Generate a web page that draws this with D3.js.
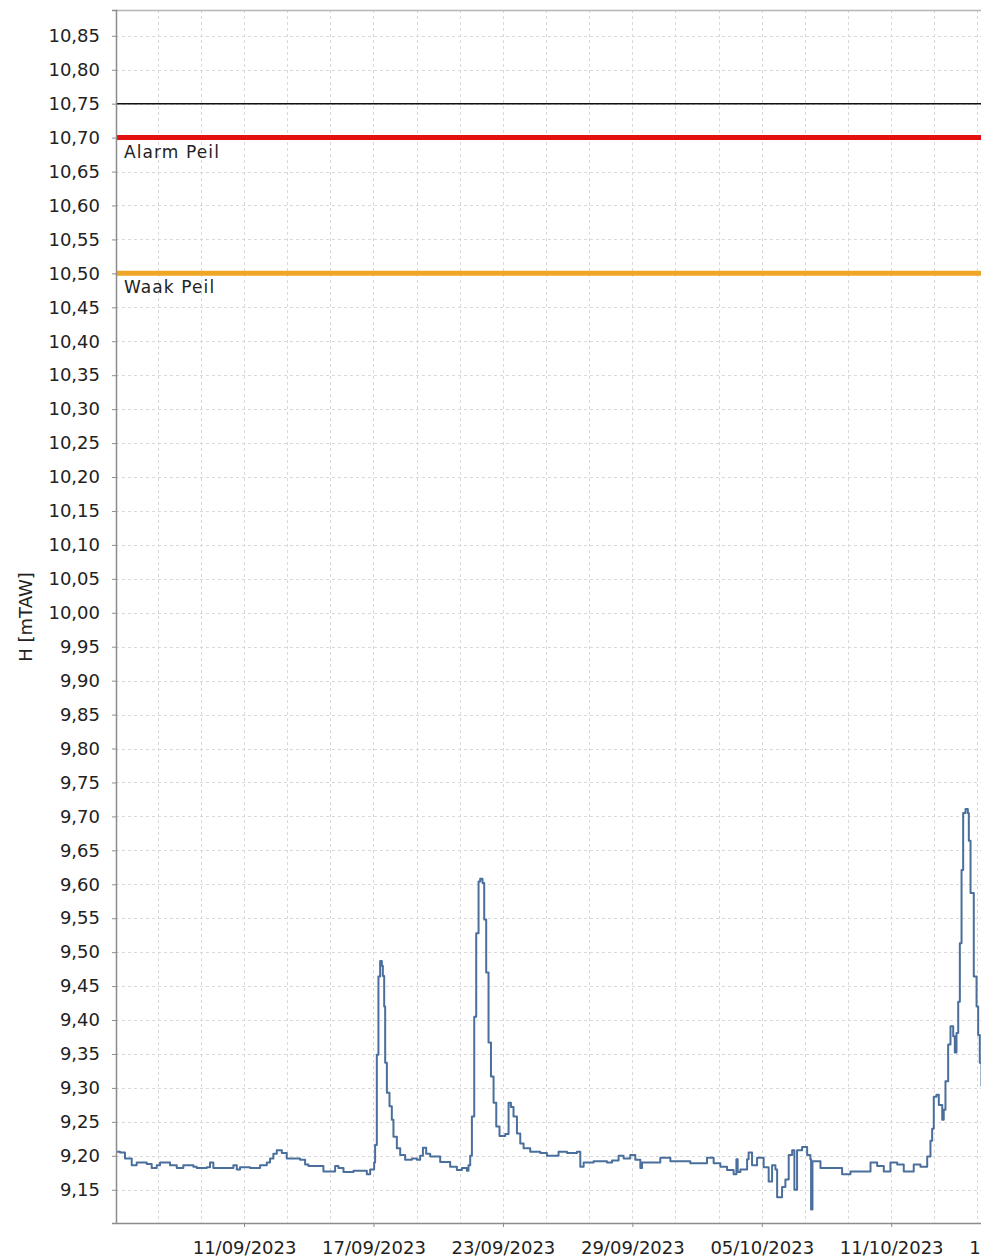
<!DOCTYPE html>
<html>
<head>
<meta charset="utf-8">
<script src="https://cdn.jsdelivr.net/npm/d3@7"></script>
<style>
  html, body { margin: 0; padding: 0; background: #fff; }
  svg { display: block; }
  text { font-family: "DejaVu Sans", sans-serif; fill: #222; }
</style>
</head>
<body>
<svg id="chart" width="981" height="1257"></svg>
<script>
// ---- DATA ----
const startDate = new Date(2023, 8, 5, 0, 0);        // 05/09/2023 00:00
const domainHours = [1.5, 964.5];                      // visible time window (hours after start)
// [hours after start, water level in mTAW]
const levelSeries = [
  [1.5, 9.206], [6, 9.205], [11.5, 9.196], [19, 9.186], [24.5, 9.190], [35.7, 9.188],
  [41.2, 9.182], [46.8, 9.186], [50.5, 9.190], [61.6, 9.186], [69.1, 9.182], [76.4, 9.186],
  [87.6, 9.184], [91.3, 9.182], [102.5, 9.183], [106.1, 9.190], [109.8, 9.182], [124.7, 9.182],
  [132.1, 9.186], [135.9, 9.180], [139.5, 9.183], [150.7, 9.182], [158.1, 9.182], [161.8, 9.186],
  [169.3, 9.190], [172.9, 9.196], [176.6, 9.203], [180.4, 9.208], [186, 9.204], [191.5, 9.196],
  [206.3, 9.194], [211.9, 9.187], [215.6, 9.185], [228.6, 9.185], [232.3, 9.177], [239.7, 9.177],
  [245.3, 9.185], [249, 9.182], [254.6, 9.176], [265.7, 9.178], [276.8, 9.178], [280.6, 9.173],
  [284.3, 9.180], [288.7, 9.190], [289.8, 9.216], [291.7, 9.349], [293.5, 9.464], [295.4, 9.487],
  [297.3, 9.480], [298.4, 9.465], [299.9, 9.420], [301, 9.337], [302.9, 9.293], [305.8, 9.273],
  [308.4, 9.253], [310.2, 9.228], [314, 9.211], [317.7, 9.201], [323.2, 9.194], [330.7, 9.196],
  [336.3, 9.194], [339.9, 9.200], [343, 9.212], [346.6, 9.203], [351.1, 9.199], [362.2, 9.191],
  [373.3, 9.184], [380.8, 9.179], [386.4, 9.182], [391.9, 9.178], [393.7, 9.186], [395.6, 9.200],
  [397.5, 9.258], [400.1, 9.405], [402.3, 9.528], [404.9, 9.604], [406.7, 9.608], [409.3, 9.602],
  [411.2, 9.548], [413.4, 9.470], [416, 9.367], [418.7, 9.317], [421.6, 9.278], [424.6, 9.243],
  [428.2, 9.229], [434.6, 9.232], [438.3, 9.278], [440.9, 9.272], [443.8, 9.258], [447.6, 9.233],
  [451.3, 9.218], [455, 9.211], [462.4, 9.206], [473.5, 9.204], [481, 9.200], [493.9, 9.206],
  [503.3, 9.204], [514.4, 9.206], [518.1, 9.184], [521.8, 9.190], [532.9, 9.192], [547.8, 9.190],
  [553.4, 9.193], [560.7, 9.200], [566.3, 9.196], [573.7, 9.201], [579.3, 9.194], [584.9, 9.182],
  [586.8, 9.190], [596, 9.190], [607.1, 9.197], [618.3, 9.192], [633.1, 9.192], [640.5, 9.189],
  [659.1, 9.197], [666.5, 9.189], [673.9, 9.184], [681.4, 9.179], [688.7, 9.173], [691.8, 9.195],
  [693.2, 9.176], [696.2, 9.180], [703.7, 9.195], [705.4, 9.205], [709.2, 9.186], [714.8, 9.197],
  [722.1, 9.183], [727.7, 9.162], [731.5, 9.186], [735.2, 9.180], [737.1, 9.139], [742.6, 9.154],
  [746.3, 9.165], [750, 9.201], [753.8, 9.208], [756.3, 9.150], [759.3, 9.208], [764.9, 9.213],
  [770.5, 9.201], [774.1, 9.195], [774.9, 9.121], [776.4, 9.192], [785.3, 9.182], [803.9, 9.182],
  [809.4, 9.173], [818.7, 9.177], [829.8, 9.177], [841, 9.190], [848.4, 9.185], [855.8, 9.177],
  [863.2, 9.190], [870.7, 9.187], [878, 9.177], [889.1, 9.187], [896.6, 9.184], [902.2, 9.184],
  [904.1, 9.199], [907.7, 9.222], [909.6, 9.240], [911.4, 9.287], [914.4, 9.290], [917, 9.275],
  [920.8, 9.253], [922.5, 9.268], [924.4, 9.310], [927.4, 9.364], [930, 9.391], [933, 9.376],
  [934.8, 9.352], [936.7, 9.381], [938.6, 9.427], [940.4, 9.513], [942.3, 9.621], [944.1, 9.705],
  [946.7, 9.711], [949.3, 9.705], [950.4, 9.664], [952.3, 9.587], [955.9, 9.464], [959, 9.420],
  [960.8, 9.378], [962.6, 9.337], [964.5, 9.302]
];
const thresholds = [
  { name: "", value: 10.75, color: "#111111", width: 1.5 },
  { name: "Alarm Peil", value: 10.70, color: "#e2100e", width: 5 },
  { name: "Waak Peil", value: 10.50, color: "#efa624", width: 5 }
];
const yDomain = [9.101, 10.888];
const yTickValues = [9.15, 9.20, 9.25, 9.30, 9.35, 9.40, 9.45, 9.50, 9.55, 9.60, 9.65, 9.70,
  9.75, 9.80, 9.85, 9.90, 9.95, 10.00, 10.05, 10.10, 10.15, 10.20, 10.25, 10.30, 10.35, 10.40,
  10.45, 10.50, 10.55, 10.60, 10.65, 10.70, 10.75, 10.80, 10.85];
const xTickLabels = ["2023-09-11", "2023-09-17", "2023-09-23", "2023-09-29", "2023-10-05", "2023-10-11", "2023-10-17"];
const yTitle = "H [mTAW]";

// ---- CHART ----
const margin = { left: 116, top: 10, right: 981, bottom: 1223 };
const svg = d3.select("#chart");
const toDate = h => new Date(startDate.getTime() + h * 3600000);
const parseDay = d3.timeParse("%Y-%m-%d");

const x = d3.scaleTime().domain(domainHours.map(toDate)).range([margin.left, margin.right + 0.5]);
const y = d3.scaleLinear().domain(yDomain).range([margin.bottom, margin.top]);

const gridColor = "#d9d9d9";
// vertical grid every 2 days
const gridDays = d3.timeDay.every(2).range(x.domain()[0], x.domain()[1]);
svg.append("g").selectAll("line").data(gridDays).join("line")
  .attr("x1", d => Math.round(x(d)) + 0.5).attr("x2", d => Math.round(x(d)) + 0.5)
  .attr("y1", margin.top).attr("y2", margin.bottom)
  .attr("stroke", gridColor).attr("stroke-width", 1).attr("stroke-dasharray", "3,3");
// horizontal grid
svg.append("g").selectAll("line").data(yTickValues).join("line")
  .attr("x1", margin.left).attr("x2", margin.right)
  .attr("y1", d => Math.round(y(d)) + 0.5).attr("y2", d => Math.round(y(d)) + 0.5)
  .attr("stroke", gridColor).attr("stroke-width", 1).attr("stroke-dasharray", "3,3");

// threshold lines
thresholds.forEach(t => {
  svg.append("line")
    .attr("x1", margin.left).attr("x2", margin.right)
    .attr("y1", y(t.value)).attr("y2", y(t.value))
    .attr("stroke", t.color).attr("stroke-width", t.width);
  if (t.name) {
    svg.append("text").attr("x", margin.left + 8).attr("y", y(t.value) + 20)
      .attr("font-size", 17).attr("letter-spacing", "1.1px").text(t.name);
  }
});

// data line
const line = d3.line()
  .x(d => x(toDate(d[0])))
  .y(d => y(d[1]))
  .curve(d3.curveStepAfter);
svg.append("path").datum(levelSeries)
  .attr("fill", "none").attr("stroke", "#4a6f9c").attr("stroke-width", 2)
  .attr("stroke-linejoin", "round")
  .attr("d", line);

// frame
const axisColor = "#8c8c8c";
svg.append("line").attr("x1", margin.left).attr("x2", margin.right)
  .attr("y1", margin.top + 0.5).attr("y2", margin.top + 0.5).attr("stroke", "#b5b5b5").attr("stroke-width", 1.5);

// y axis
const fmt = d3.format(".2f");
const yAxis = d3.axisLeft(y).tickValues(yTickValues).tickSize(4).tickPadding(12)
  .tickFormat(d => fmt(d).replace(".", ","));
const gy = svg.append("g").attr("transform", `translate(${margin.left},0)`).call(yAxis);
gy.select(".domain").attr("stroke", axisColor).attr("stroke-width", 1.5);
gy.selectAll(".tick line").attr("stroke", axisColor);
gy.selectAll(".tick text").attr("font-size", 18).attr("font-family", "DejaVu Sans").attr("fill", "#222");

// x axis
const fmtDate = d3.timeFormat("%d/%m/%Y");
const xAxis = d3.axisBottom(x).tickValues(xTickLabels.map(parseDay)).tickSize(4).tickPadding(14)
  .tickSizeOuter(0).tickFormat(fmtDate);
const gx = svg.append("g").attr("transform", `translate(0,${margin.bottom})`).call(xAxis);
gx.select(".domain").attr("stroke", axisColor).attr("stroke-width", 1.5);
gx.selectAll(".tick line").attr("stroke", axisColor);
gx.selectAll(".tick text").attr("font-size", 18).attr("font-family", "DejaVu Sans").attr("fill", "#222");

// y title
svg.append("text")
  .attr("transform", `translate(32,617) rotate(-90)`)
  .attr("text-anchor", "middle").attr("font-size", 18)
  .text(yTitle);
</script>
</body>
</html>
